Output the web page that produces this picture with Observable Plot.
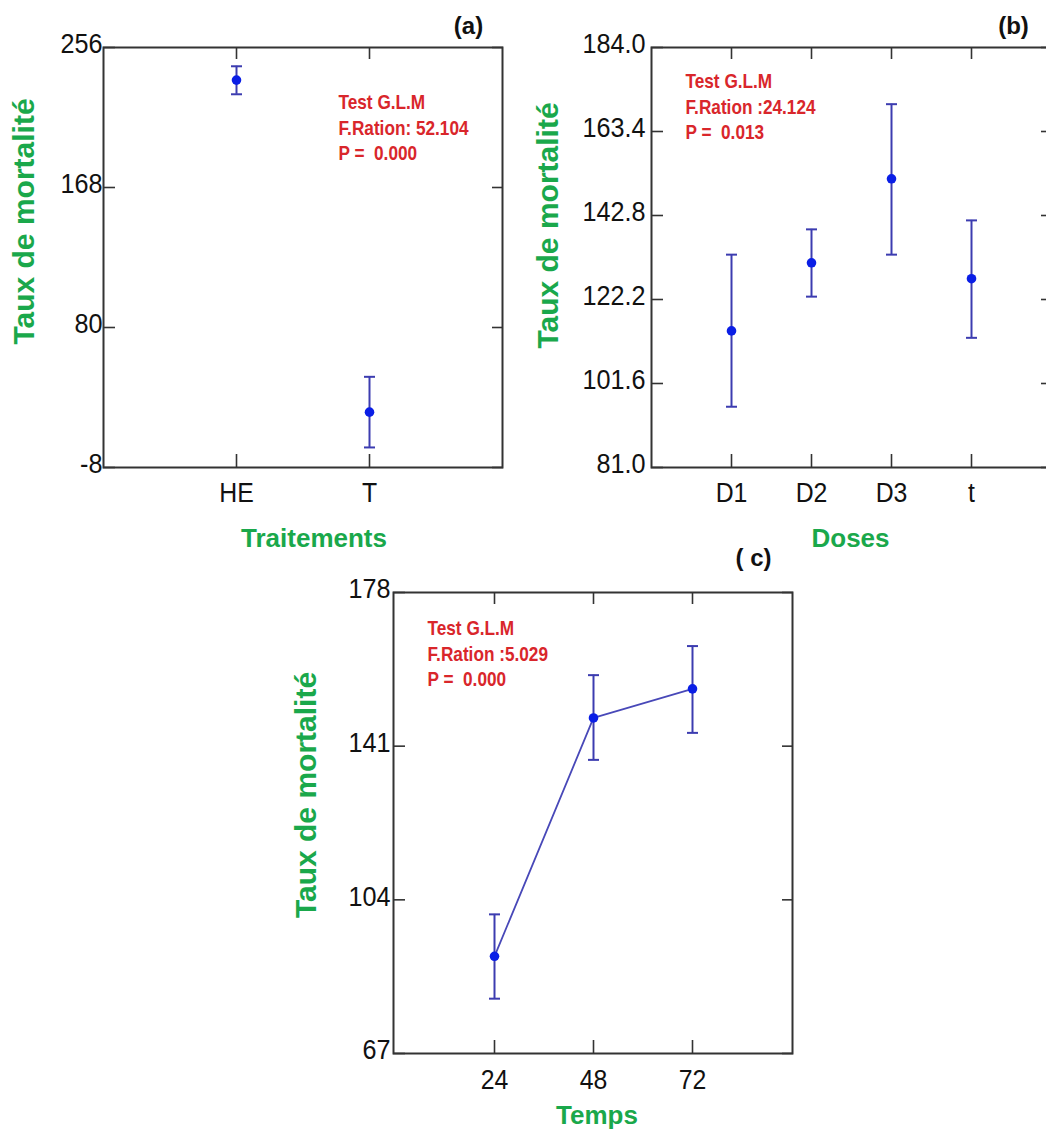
<!DOCTYPE html>
<html><head><meta charset="utf-8">
<script src="https://cdn.jsdelivr.net/npm/d3@7"></script>
<script src="https://cdn.jsdelivr.net/npm/@observablehq/plot@0.6"></script>
<style>
html,body{margin:0;padding:0;background:#fff;overflow:hidden}
#wrap{position:relative;width:1046px;height:1130px;overflow:hidden;background:#fff}
.panel{position:absolute}
</style></head><body><div id="wrap">
<div id="pc" class="panel" style="left:280px;top:540px;width:540px;height:590px"></div>
<div id="pa" class="panel" style="left:0;top:0;width:520px;height:560px"></div>
<div id="pb" class="panel" style="left:540px;top:0;width:516px;height:560px"></div>
</div>
<script>
// ---- data (a) Traitements
const traitements = ["HE", "T"];
const traitMean = [235.5, 26.8];
const traitLow = [226.6, 4.6];
const traitHigh = [244.2, 49.0];
const traitTicks = [-8, 80, 168, 256];

// ---- data (b) Doses
const doses = ["D1", "D2", "D3", "t"];
const doseMean = [114.5, 131.2, 151.8, 127.3];
const doseLow = [95.9, 122.9, 133.2, 112.8];
const doseHigh = [133.2, 139.4, 170.1, 141.6];
const doseTicks = [81.0, 101.6, 122.2, 142.8, 163.4, 184.0];

// ---- data (c) Temps
const temps = ["24", "48", "72"];
const tempsMean = [90.4, 147.8, 154.8];
const tempsLow = [80.2, 137.7, 144.2];
const tempsHigh = [100.5, 158.1, 165.1];
const tempsTicks = [67, 104, 141, 178];

const yTitle = "Taux de mortalité";
const notes = {
  a: "Test G.L.M\nF.Ration: 52.104\nP =  0.000",
  b: "Test G.L.M\nF.Ration :24.124\nP =  0.013",
  c: "Test G.L.M\nF.Ration :5.029\nP =  0.000"
};

const FONT = "'Liberation Sans', Arial, Helvetica, sans-serif";
const GREEN = "#1aa84b";
const RED = "#d9262b";
const BAR = "#3c3cb0";
const DOT = "#0a1ee6";
const AX = "#333333";

// horizontal cap symbol for error bars (half-width = r)
const capSymbol = {
  draw(context, size) {
    const h = Math.sqrt(size / Math.PI);
    context.moveTo(-h, 0);
    context.lineTo(h, 0);
  }
};

// narrow the glyphs horizontally around each text's own anchor (the source uses a condensed face)
function squeezeText(t, sx) {
  const x = parseFloat(t.getAttribute("x")) || 0;
  const tr = t.getAttribute("transform") || "";
  t.setAttribute("transform", `${tr} translate(${x},0) scale(${sx},1) translate(${-x},0)`);
}

function panel(o) {
  const data = o.cats.map((c, i) => ({c, m: o.mean[i], lo: o.low[i], hi: o.high[i]}));
  const t = o.ticks;
  const svg = Plot.plot({
    width: o.width, height: o.height,
    marginLeft: o.ml, marginRight: o.mr, marginTop: o.mt, marginBottom: o.mb,
    style: {fontFamily: FONT, background: "transparent", maxWidth: "none", overflow: "visible"},
    x: {type: "point", domain: o.cats, padding: 1},
    y: {domain: [t[0], t[t.length - 1]]},
    marks: [
      // inner ticks on four sides
      Plot.axisY(t, {anchor: "left", tickSize: -12, tickFormat: () => "", label: null, stroke: AX, strokeWidth: 1.6}),
      Plot.axisY(t, {anchor: "right", tickSize: -11, tickFormat: () => "", label: null, stroke: AX, strokeWidth: 1.6}),
      Plot.axisX({anchor: "top", tickSize: -11, tickFormat: () => "", label: null, stroke: AX, strokeWidth: 1.6}),
      Plot.axisX({anchor: "bottom", tickSize: -13, tickFormat: () => "", label: null, stroke: AX, strokeWidth: 1.6}),
      // tick labels
      Plot.axisY(t, {anchor: "left", tickSize: 0, tickPadding: o.yPad, tickFormat: o.fmt, label: null,
        fontSize: 28, fill: "#111", dy: -3}),
      Plot.axisX({anchor: "bottom", tickSize: 0, tickPadding: o.xPad, label: null, fontSize: 27, fill: "#111"}),
      Plot.frame({stroke: AX, strokeWidth: 2}),
      // axis titles
      Plot.text([o.xTitle], {text: d => d, frameAnchor: "bottom", lineAnchor: "top", dx: o.xtDx, dy: o.xtDy,
        fill: GREEN, fontSize: 26, fontWeight: "bold"}),
      Plot.text([yTitle], {text: d => d, frameAnchor: "left", rotate: -90, lineAnchor: "middle", textAnchor: "middle",
        dx: o.ytDx, dy: o.ytDy, fill: GREEN, fontSize: 30, fontWeight: "bold"}),
      // panel tag
      Plot.text([o.tag], {text: d => d, frameAnchor: "top-right", textAnchor: "middle", lineAnchor: "middle",
        dx: o.tagDx, dy: o.tagDy, fill: "#111", fontSize: 24, fontWeight: "bold"}),
      // statistics note
      Plot.text([o.note], {text: d => d, frameAnchor: "top-left", textAnchor: "start", lineAnchor: "top",
        dx: o.nDx, dy: o.nDy, fill: RED, fontSize: 21, fontWeight: "bold", lineHeight: 1.2}),
      // data
      o.line ? Plot.line(data, {x: "c", y: "m", stroke: "#4848b8", strokeWidth: 1.8}) : null,
      Plot.ruleX(data, {x: "c", y1: "lo", y2: "hi", stroke: BAR, strokeWidth: 2}),
      Plot.dot(data, {x: "c", y: "hi", r: 5.5, symbol: capSymbol, fill: "none", stroke: BAR, strokeWidth: 2}),
      Plot.dot(data, {x: "c", y: "lo", r: 5.5, symbol: capSymbol, fill: "none", stroke: BAR, strokeWidth: 2}),
      Plot.dot(data, {x: "c", y: "m", r: 4.8, fill: DOT, stroke: null})
    ]
  });
  svg.querySelectorAll("text").forEach(el => {
    const g = el.closest("g[aria-label]");
    const label = g ? g.getAttribute("aria-label") : "";
    if (el.textContent.startsWith("Test")) squeezeText(el, 0.82);
    else if (label === "y-axis tick label") squeezeText(el, 0.9);
    else if (label === "x-axis tick label") squeezeText(el, 0.92);
  });
  return svg;
}

const plain = d => String(d);
const oneDec = d => d.toFixed(1);

document.getElementById("pa").append(panel({
  cats: traitements, mean: traitMean, low: traitLow, high: traitHigh, ticks: traitTicks,
  fmt: plain, xTitle: "Traitements", tag: "(a)", note: notes.a,
  width: 520, height: 560, ml: 103, mr: 18, mt: 47, mb: 93,
  yPad: 1, xPad: 15, xtDx: 11, xtDy: 61, ytDx: -79, ytDy: -36, tagDx: -34, tagDy: -21, nDx: 235, nDy: 44
}));

document.getElementById("pb").append(panel({
  cats: doses, mean: doseMean, low: doseLow, high: doseHigh, ticks: doseTicks,
  fmt: oneDec, xTitle: "Doses", tag: "(b)", note: notes.b,
  width: 516, height: 560, ml: 111, mr: 5, mt: 47, mb: 93,
  yPad: 6, xPad: 15, xtDx: -1, xtDy: 61, ytDx: -103, ytDy: -32, tagDx: -38, tagDy: -21, nDx: 34, nDy: 23
}));

document.getElementById("pc").append(panel({
  cats: temps, mean: tempsMean, low: tempsLow, high: tempsHigh, ticks: tempsTicks,
  fmt: plain, xTitle: "Temps", tag: "( c)", note: notes.c, line: true,
  width: 540, height: 590, ml: 113, mr: 28, mt: 52, mb: 77,
  yPad: 3, xPad: 16, xtDx: 4, xtDy: 52, ytDx: -87, ytDy: -28, tagDx: -39, tagDy: -34, nDx: 34, nDy: 25
}));
</script>
</body></html>
